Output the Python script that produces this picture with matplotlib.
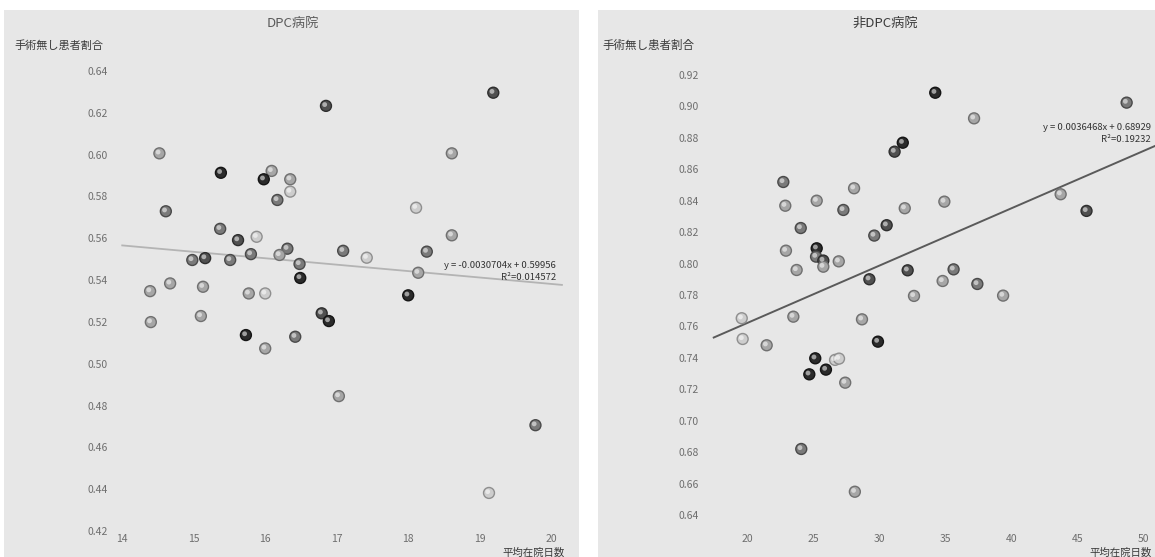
import matplotlib
matplotlib.use("Agg")
import matplotlib.pyplot as plt
import matplotlib.transforms as mtransforms
from matplotlib.patches import Rectangle
import numpy as np

plt.rcParams['font.family'] = ['Noto Sans CJK JP', 'DejaVu Sans']

# ---------------- data ----------------
left_title = "DPC病院"
right_title = "非DPC病院"
y_label = "手術無し患者割合"
x_label = "平均在院日数"

left_x = [14.52, 15.38, 16.09, 15.98, 16.35, 16.35, 16.17, 14.61, 15.37, 15.62,
          15.88, 16.31, 17.09, 15.80, 16.20, 14.98, 15.16, 15.51, 16.48, 16.49,
          14.67, 14.39, 15.13, 15.77, 16.00, 15.10, 14.40, 16.79, 16.89, 15.73,
          16.42, 19.19, 16.85, 18.61, 18.11, 18.61, 17.42, 18.26, 18.14, 18.00,
          16.00, 17.03, 19.78, 19.13]
left_y = [0.6006, 0.5913, 0.5922, 0.5882, 0.5882, 0.5823, 0.5783, 0.5729, 0.5645, 0.5591,
          0.5607, 0.5550, 0.5540, 0.5524, 0.5520, 0.5496, 0.5505, 0.5496, 0.5477, 0.5410,
          0.5384, 0.5347, 0.5368, 0.5336, 0.5336, 0.5228, 0.5199, 0.5241, 0.5204, 0.5137,
          0.5129, 0.6296, 0.6233, 0.6006, 0.5746, 0.5614, 0.5507, 0.5536, 0.5435, 0.5327,
          0.5073, 0.4845, 0.4706, 0.4382]
left_shade = ['l', 'd', 'l', 'd', 'l', 'w', 'm', 'm', 'm', 'md',
              'w', 'm', 'm', 'm', 'l', 'm', 'md', 'm', 'm', 'd',
              'l', 'l', 'l', 'l', 'w', 'l', 'l', 'md', 'd', 'd',
              'm', 'md', 'md', 'l', 'w', 'l', 'w', 'm', 'l', 'd',
              'l', 'l', 'm', 'w']

right_x = [22.72, 28.08, 22.87, 25.25, 27.27, 31.92, 30.55, 29.61, 24.04, 22.92,
           25.25, 25.20, 25.75, 25.75, 26.92, 23.73, 29.24, 32.14, 32.62, 28.68,
           23.48, 19.57, 19.64, 21.46, 29.89, 25.14, 26.64, 26.94, 25.95, 24.69,
           34.23, 48.73, 37.17, 31.77, 31.15, 43.73, 45.69, 34.92, 35.62, 34.79,
           37.42, 39.37, 24.08, 28.14, 27.41]
right_y = [0.8519, 0.8479, 0.8368, 0.8400, 0.8341, 0.8352, 0.8244, 0.8178, 0.8226, 0.8082,
           0.8097, 0.8044, 0.8019, 0.7980, 0.8014, 0.7959, 0.7900, 0.7957, 0.7794, 0.7645,
           0.7662, 0.7652, 0.7520, 0.7480, 0.7503, 0.7397, 0.7387, 0.7395, 0.7325, 0.7295,
           0.9087, 0.9024, 0.8924, 0.8769, 0.8712, 0.8441, 0.8335, 0.8394, 0.7963, 0.7889,
           0.7870, 0.7796, 0.6820, 0.6548, 0.7242]
right_shade = ['m', 'l', 'l', 'l', 'm', 'l', 'md', 'm', 'm', 'l',
               'd', 'm', 'md', 'l', 'l', 'l', 'md', 'md', 'l', 'l',
               'l', 'w', 'w', 'l', 'd', 'd', 'w', 'w', 'd', 'd',
               'd', 'm', 'l', 'd', 'md', 'l', 'md', 'l', 'm', 'l',
               'm', 'l', 'm', 'l', 'l']

left_slope, left_intercept = -0.0030704, 0.59956
right_slope, right_intercept = 0.0036468, 0.68929
left_eq = "y = -0.0030704x + 0.59956"
left_r2 = "R²=0.014572"
right_eq = "y = 0.0036468x + 0.68929"
right_r2 = "R²=0.19232"
left_line_x = [14.0, 20.15]
right_line_x = [17.45, 50.9]

left_xticks = [14, 15, 16, 17, 18, 19, 20]
left_yticks = [0.42, 0.44, 0.46, 0.48, 0.50, 0.52, 0.54, 0.56, 0.58, 0.60, 0.62, 0.64]
right_xticks = [20, 25, 30, 35, 40, 45, 50]
right_yticks = [0.64, 0.66, 0.68, 0.70, 0.72, 0.74, 0.76, 0.78, 0.80, 0.82, 0.84,
                0.86, 0.88, 0.90, 0.92]

# ---------------- styles ----------------
W, H = 1155, 557
shade_col = {'d': '#2b2b2b', 'md': '#505050', 'm': '#7a7a7a', 'l': '#a6a6a6', 'w': '#cdcdcd'}
edge_col = {'d': '#151515', 'md': '#2e2e2e', 'm': '#4a4a4a', 'l': '#707070', 'w': '#8f8f8f'}
panel_col = '#e7e7e7'
tick_col = '#6e6e6e'

fig = plt.figure(figsize=(W / 100, H / 100), dpi=100)
fig.patch.set_facecolor('white')

def px_rect(x0, y0, x1, y1):
    return [x0 / W, 1 - y1 / H, (x1 - x0) / W, (y1 - y0) / H]

# grey panels
for (x0, y0, x1, y1) in [(4, 10, 579, 557), (598, 10, 1155, 557)]:
    fig.patches.append(Rectangle((x0 / W, 1 - y1 / H), (x1 - x0) / W, (y1 - y0) / H,
                                 transform=fig.transFigure, facecolor=panel_col,
                                 edgecolor='none', zorder=-5))

axL = fig.add_axes(px_rect(113, 60.5, 570, 531))
axR = fig.add_axes(px_rect(704, 51.4, 1155.3, 530.7))

def style(ax, xt, yt, xlim, ylim, yfmt):
    ax.set_facecolor('none')
    for s in ax.spines.values():
        s.set_visible(False)
    ax.set_xlim(*xlim)
    ax.set_ylim(*ylim)
    ax.set_xticks(xt)
    ax.set_xticklabels([str(v) for v in xt])
    ax.set_yticks(yt)
    ax.set_yticklabels([yfmt.format(v) for v in yt])
    ax.tick_params(length=0, labelsize=7.5, colors=tick_col, pad=4)
    ax.tick_params(axis='x', pad=2.5)

def spheres(ax, xs, ys, shades):
    cols = [shade_col[s] for s in shades]
    edges = [edge_col[s] for s in shades]
    ax.scatter(xs, ys, s=62, c=cols, edgecolors=edges, linewidths=1.0, zorder=3)
    off = mtransforms.ScaledTranslation(-1.3 / 100, 1.3 / 100, fig.dpi_scale_trans)
    ax.scatter(xs, ys, s=12, c='white', alpha=0.55, edgecolors='none', zorder=4,
               transform=ax.transData + off)

style(axL, left_xticks, left_yticks, (13.871, 20.263), (0.42, 0.645), "{:.2f}")
style(axR, right_xticks, right_yticks, (16.712, 50.9), (0.63, 0.935), "{:.2f}")

lx = np.array(left_line_x)
axL.plot(lx, left_slope * lx + left_intercept, color='#b4b4b4', lw=1.3, zorder=2)
rx = np.array(right_line_x)
axR.plot(rx, right_slope * rx + right_intercept, color='#5a5a5a', lw=1.4, zorder=2,
         clip_on=False)

spheres(axL, left_x, left_y, left_shade)
spheres(axR, right_x, right_y, right_shade)

# equations
fig.text(556 / W, 1 - 266 / H, left_eq, ha='right', va='center', fontsize=6.8, color='#333333')
fig.text(556 / W, 1 - 277 / H, left_r2, ha='right', va='center', fontsize=6.8, color='#333333')
fig.text(1151 / W, 1 - 127.5 / H, right_eq, ha='right', va='center', fontsize=6.8, color='#333333')
fig.text(1151 / W, 1 - 139.5 / H, right_r2, ha='right', va='center', fontsize=6.8, color='#333333')

# titles and axis labels
fig.text(293 / W, 1 - 23.5 / H, left_title, ha='center', va='center', fontsize=9.5, color='#5a5a5a')
fig.text(885 / W, 1 - 23 / H, right_title, ha='center', va='center', fontsize=9.5, color='#3a3a3a')
fig.text(14 / W, 1 - 45.5 / H, y_label, ha='left', va='center', fontsize=8, color='#3a3a3a')
fig.text(602 / W, 1 - 45 / H, y_label, ha='left', va='center', fontsize=8.3, color='#3a3a3a')
fig.text(565 / W, 1 - 548 / H, x_label, ha='right', va='top', fontsize=7.5, color='#3a3a3a')
fig.text(1152 / W, 1 - 548 / H, x_label, ha='right', va='top', fontsize=7.5, color='#3a3a3a')

fig.savefig("out.png", dpi=100, facecolor='white')
